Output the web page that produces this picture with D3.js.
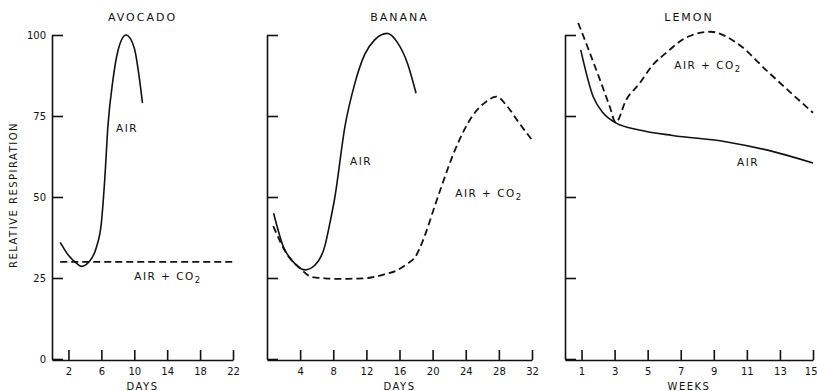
<!DOCTYPE html>
<html>
<head>
<meta charset="utf-8">
<script src="https://cdn.jsdelivr.net/npm/d3@7"></script>
<style>
  body { margin: 0; background: #fff; }
  text { font-family: "DejaVu Sans", sans-serif; fill: #111; }
</style>
</head>
<body>
<script>
// relative respiration
const avocadoAirDays = [1, 2, 3, 3.6, 4.5, 5.4, 6.0, 6.4, 6.8, 7.4, 8.0, 9.0, 10.0, 10.6, 11];
const avocadoAir = [36, 32, 29.5, 28.6, 30, 34.5, 42, 55, 72, 86, 95, 100, 96, 87, 79];
const avocadoCo2Days = [1, 22];
const avocadoCo2 = [30, 30];

const bananaAirDays = [0.8, 2, 3, 4.6, 5.8, 7, 7.6, 8.2, 9.4, 10.6, 11.8, 13, 14.5, 15.8, 17, 18];
const bananaAir = [45, 34.5, 30.5, 27.5, 29, 35, 42, 50, 71.6, 85, 94, 98.5, 100.5, 97.5, 91, 82];
const bananaCo2Days = [0.75, 2.5, 4, 5.4, 7, 9, 10.5, 12.2, 14, 15.8, 17, 17.9, 19, 20.1, 20.9, 22.7, 24.8, 26.5, 27.7, 29, 30.4, 32];
const bananaCo2 = [41, 32, 28, 25.3, 24.9, 24.7, 24.8, 25, 26, 27.5, 29.5, 31.5, 37.7, 46, 52, 64.5, 75, 79.5, 81, 78, 73, 67.6];

const lemonAirWeeks = [0.95, 1.7, 2.3, 3.1, 4.5, 6.5, 9.8, 12.6, 15];
const lemonAir = [95.4, 81, 76, 72.8, 70.7, 69, 67, 64, 60.5];
const lemonCo2Weeks = [0.8, 1.5, 2.2, 2.7, 3.07, 3.7, 4.5, 5.3, 6.1, 7.4, 8.8, 10.4, 12.2, 13.8, 15];
const lemonCo2 = [103.7, 94.5, 85, 78, 73, 80, 85, 90.7, 94.4, 99.4, 101, 97.5, 89, 81.5, 76];

const yTicks = [0, 25, 50, 75, 100];
const avocadoTicks = [2, 6, 10, 14, 18, 22];
const bananaTicks = [4, 8, 12, 16, 20, 24, 28, 32];
const lemonTicks = [1, 3, 5, 7, 9, 11, 13, 15];

const svg = d3.select('body').append('svg')
    .attr('width', 817)
    .attr('height', 391);

const y = d3.scaleLinear().domain([0, 100]).range([359, 35]);

const panels = [
    { title: 'AVOCADO', unit: 'DAYS', max: 22, x0: 52, x1: 233, ticks: avocadoTicks, labels: true,
      air: [avocadoAirDays, avocadoAir], co2: [avocadoCo2Days, avocadoCo2],
      airLabel: [127, 132], co2Label: [168, 280] },
    { title: 'BANANA', unit: 'DAYS', max: 32, x0: 267, x1: 532, ticks: bananaTicks, labels: false,
      air: [bananaAirDays, bananaAir], co2: [bananaCo2Days, bananaCo2],
      airLabel: [361, 165], co2Label: [489, 197] },
    { title: 'LEMON', unit: 'WEEKS', max: 15, x0: 565, x1: 813, ticks: lemonTicks, labels: false,
      air: [lemonAirWeeks, lemonAir], co2: [lemonCo2Weeks, lemonCo2],
      airLabel: [748, 166], co2Label: [708, 69] }
];

const co2Text = (g, pos) => {
    const t = g.append('text')
        .attr('x', pos[0]).attr('y', pos[1])
        .attr('text-anchor', 'middle')
        .attr('font-size', 10.5)
        .attr('letter-spacing', 1.5);
    t.append('tspan').text('AIR  +  CO');
    t.append('tspan').attr('dy', 3).attr('font-size', 8.5).text('2');
};

panels.forEach((p) => {
    const x = d3.scaleLinear().domain([0, p.max]).range([p.x0, p.x1]);
    const g = svg.append('g');

    const yAxis = d3.axisLeft(y)
        .tickValues(yTicks)
        .tickSizeInner(-11)
        .tickSizeOuter(0)
        .tickPadding(6)
        .tickFormat(p.labels ? d3.format('d') : () => '');
    g.append('g')
        .attr('transform', `translate(${p.x0},0)`)
        .call(yAxis)
        .call((a) => a.selectAll('path, line').attr('stroke', '#111').attr('stroke-width', 1.6))
        .call((a) => a.selectAll('text').attr('font-size', 10).attr('font-family', 'DejaVu Sans').attr('fill', '#111'));

    const xAxis = d3.axisBottom(x)
        .tickValues(p.ticks)
        .tickSizeInner(-10)
        .tickSizeOuter(0)
        .tickPadding(8);
    g.append('g')
        .attr('transform', `translate(0,${y(0) + 1})`)
        .call(xAxis)
        .call((a) => a.selectAll('path, line').attr('stroke', '#111').attr('stroke-width', 1.6))
        .call((a) => a.selectAll('text').attr('font-size', 10).attr('font-family', 'DejaVu Sans').attr('fill', '#111'))
        // last week label sits right at the page edge
        .call((a) => a.selectAll('.tick').filter((d) => x(d) > 805).select('text').attr('text-anchor', 'end').attr('dx', 4));

    g.append('text')
        .attr('x', (p.x0 + p.x1) / 2)
        .attr('y', 21)
        .attr('text-anchor', 'middle')
        .attr('font-size', 11)
        .attr('letter-spacing', 2)
        .text(p.title);

    g.append('text')
        .attr('x', (p.x0 + p.x1) / 2)
        .attr('y', 390)
        .attr('text-anchor', 'middle')
        .attr('font-size', 10)
        .attr('letter-spacing', 1.5)
        .text(p.unit);

    const line = d3.line()
        .x((d) => x(d[0]))
        .y((d) => y(d[1]))
        .curve(d3.curveMonotoneX);

    g.append('path')
        .datum(d3.zip(p.air[0], p.air[1]))
        .attr('d', line)
        .attr('fill', 'none')
        .attr('stroke', '#111')
        .attr('stroke-width', 1.6);

    g.append('path')
        .datum(d3.zip(p.co2[0], p.co2[1]))
        .attr('d', line)
        .attr('fill', 'none')
        .attr('stroke', '#111')
        .attr('stroke-width', 1.8)
        .attr('stroke-dasharray', '7,4');

    g.append('text')
        .attr('x', p.airLabel[0]).attr('y', p.airLabel[1])
        .attr('text-anchor', 'middle')
        .attr('font-size', 10.5)
        .attr('letter-spacing', 1.5)
        .text('AIR');

    co2Text(g, p.co2Label);
});

svg.append('text')
    .attr('transform', 'translate(17,195) rotate(-90)')
    .attr('text-anchor', 'middle')
    .attr('font-size', 10)
    .attr('letter-spacing', 1.5)
    .text('RELATIVE RESPIRATION');
</script>
</body>
</html>
